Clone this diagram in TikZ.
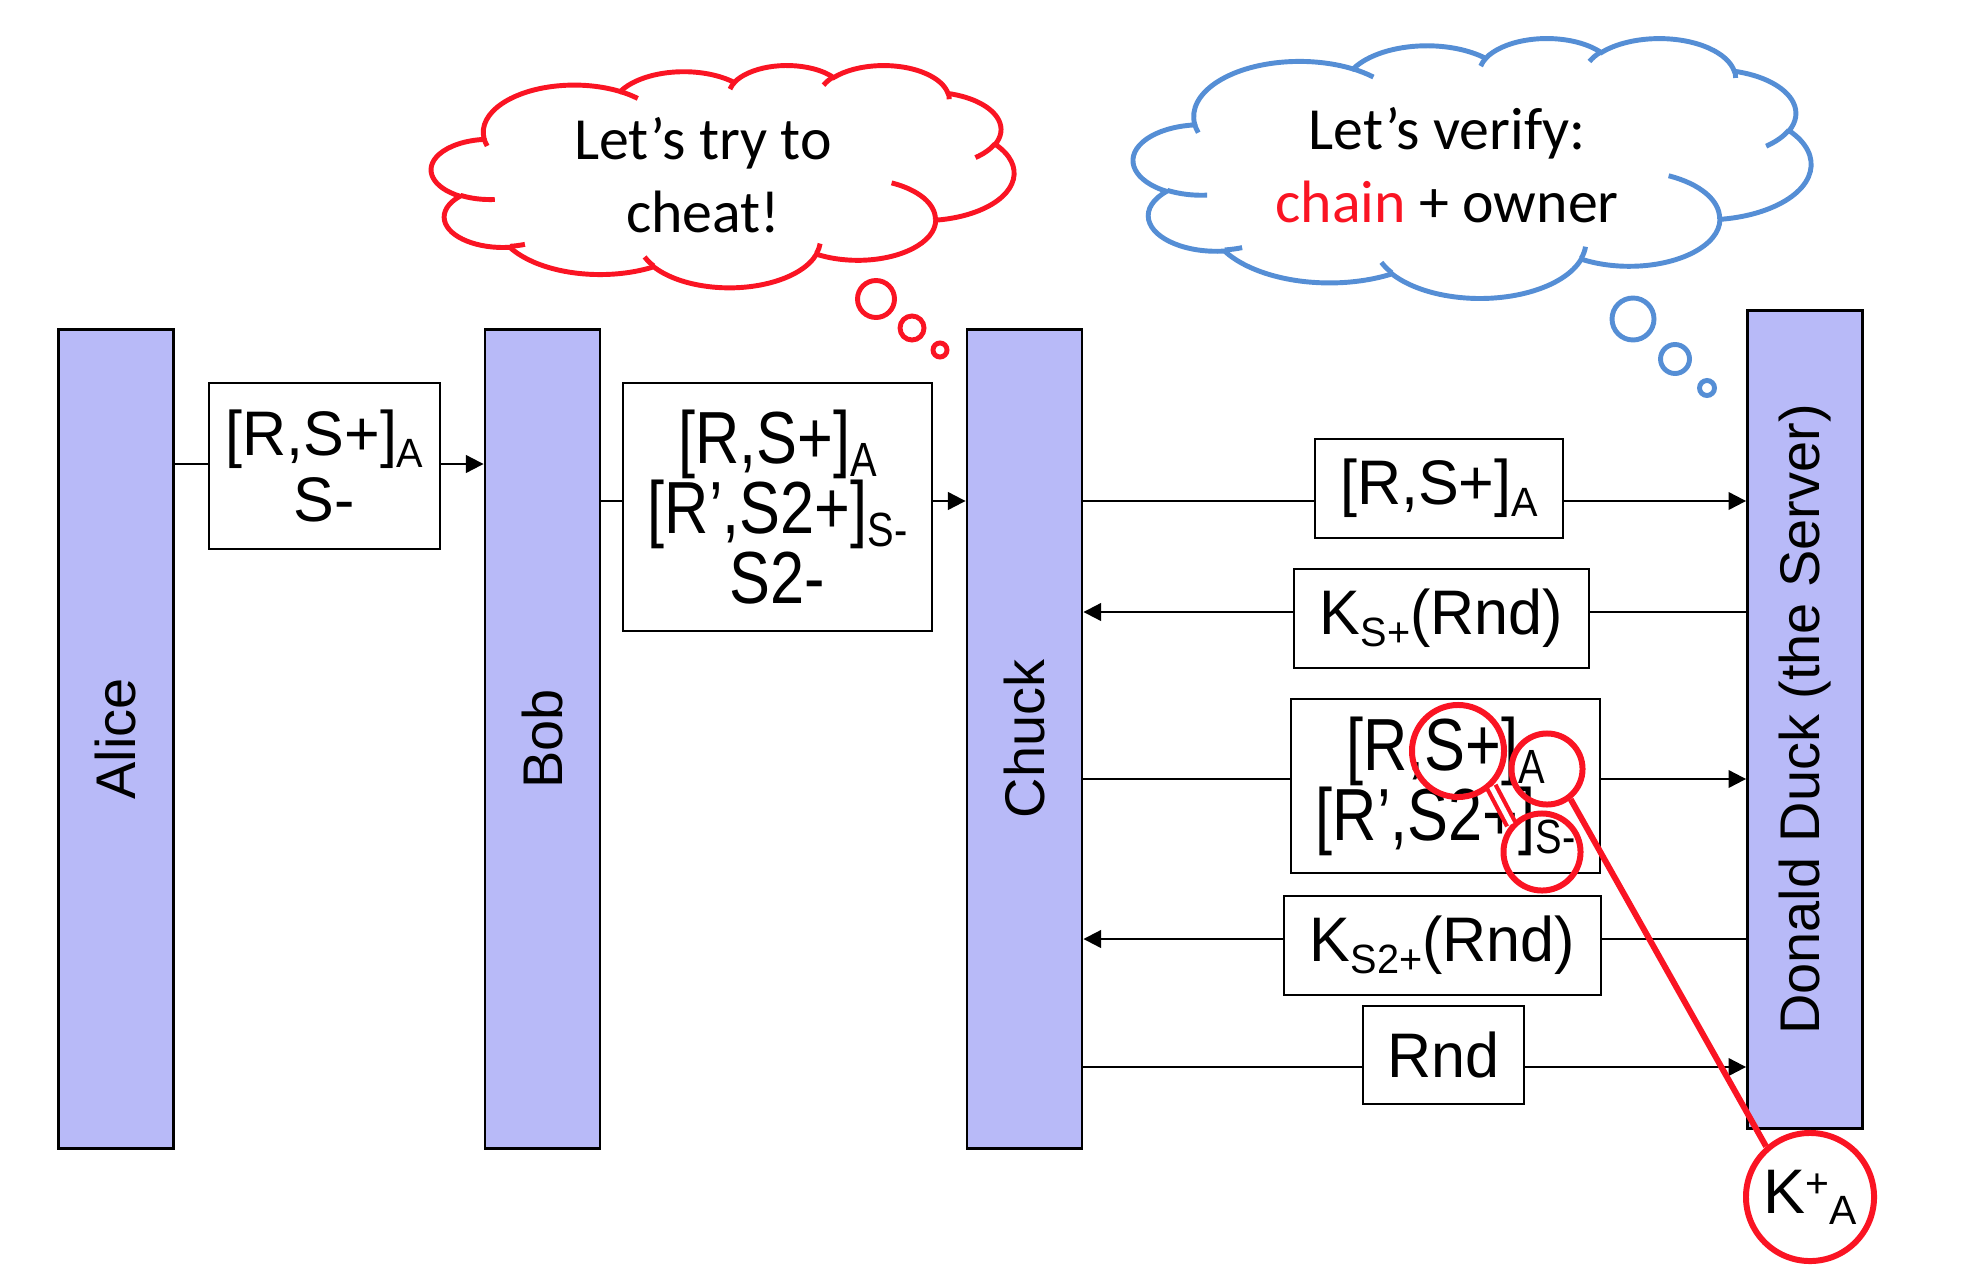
\documentclass[tikz,border=0pt]{standalone}
\usepackage{fontspec}
\setmainfont{Liberation Sans}
\newfontfamily\boxfont[FakeStretch=0.97]{Liberation Sans}
\newfontfamily\tallfont[FakeStretch=0.83]{Liberation Sans}
\newfontfamily\cloudfont{Carlito}
\usepackage{tikz}
\usetikzlibrary{arrows.meta,positioning}
\definecolor{barblue}{RGB}{184,186,248}
\definecolor{cheatred}{RGB}{250,20,35}
\definecolor{thinkblue}{RGB}{85,142,213}
\newcommand{\lo}[1]{\raisebox{-0.18em}{\scalebox{0.65}{#1}}}
\newcommand{\hi}[1]{\raisebox{0.25em}{\scalebox{0.65}{#1}}}
\newcommand{\puffcloud}[1]{%
  \draw[#1,fill=white] (39,143.7)
    arc[start angle=-187.746,delta angle=128.11,x radius=67.53,y radius=91.90]
    arc[start angle=-152.032,delta angle=106.581,x radius=53.33,y radius=72.67]
    arc[start angle=-153.495,delta angle=116.156,x radius=43.65,y radius=59.45]
    arc[start angle=-139.713,delta angle=129.502,x radius=48.57,y radius=65.95]
    arc[start angle=-74.767,delta angle=97.977,x radius=53.33,y radius=72.73]
    arc[start angle=-37.534,delta angle=119.397,x radius=67.75,y radius=92.20]
    arc[start angle=0.460,delta angle=121.518,x radius=57.85,y radius=78.67]
    arc[start angle=16.845,delta angle=129.379,x radius=67.52,y radius=92.15]
    arc[start angle=58.987,delta angle=91.212,x radius=77.20,y radius=105.43]
    arc[start angle=83.306,delta angle=139.807,x radius=43.60,y radius=59.18]
    arc[start angle=120.354,delta angle=143.759,x radius=43.45,y radius=59.45]
    -- cycle;
  \draw[#1] (46.93,261.77) arc[start angle=85.546,delta angle=34.808,x radius=43.45,y radius=59.45]
    (69.28,348.99) arc[start angle=68.233,delta angle=15.073,x radius=43.60,y radius=59.18]
    (164.78,390.90) arc[start angle=146.224,delta angle=12.247,x radius=67.52,y radius=92.15]
    (288.27,347.51) arc[start angle=4.737,delta angle=12.108,x radius=67.52,y radius=92.15]
    (341.29,229.54) arc[start angle=-64.028,delta angle=64.488,x radius=57.85,y radius=78.67]
    (417.98,153.54) arc[start angle=23.210,delta angle=26.441,x radius=53.33,y radius=72.73]
    (383.24,54.26) arc[start angle=-10.211,delta angle=11.032,x radius=48.57,y radius=65.95]
    (290.78,39.52) arc[start angle=-156.289,delta angle=16.576,x radius=48.57,y radius=65.95]
    (221.41,47.20) arc[start angle=-167.726,delta angle=14.231,x radius=43.65,y radius=59.45]
    (140.00,51.92) arc[start angle=-59.636,delta angle=13.903,x radius=67.53,y radius=91.90]
    (41.27,157.89) arc[start angle=163.194,delta angle=9.060,x radius=67.53,y radius=91.90];
}

\begin{document}
\begin{tikzpicture}[x=0.01cm,y=-0.01cm,
  party/.style={draw,line width=0.8pt,fill=barblue,minimum width=1.15cm,minimum height=8.18cm,inner sep=0pt,font=\fontsize{15.9}{18}\selectfont},
  msgbox/.style={draw,line width=0.7pt,fill=white,inner sep=0pt,align=center,font={\boxfont\fontsize{17.9}{18.5}\selectfont}},
  tallbox/.style={msgbox,font={\tallfont\fontsize{21}{19.9}\selectfont\lineskiplimit=-1em}},
  msg/.style={line width=0.6pt,-{Triangle[length=5pt,width=5pt]}},
  cloudtext/.style={align=center,font={\cloudfont\fontsize{17}{20.7}\selectfont}},
  ring/.style={circle,draw=cheatred,line width=1.7pt,inner sep=0pt}]
\useasboundingbox (0,0) rectangle (1970,1282);

\node[party] (alice) at (116,739) {\rotatebox{90}{Alice}};
\node[party] (bob) at (542.5,739) {\rotatebox{90}{Bob}};
\node[party] (chuck) at (1024.5,739) {\rotatebox{90}{Chuck}};
\node[party,minimum height=8.17cm] (server) at (1805,719.5) {\rotatebox{90}{Donald Duck (the Server)}};

\draw[msg] (alice.east |- 0,464) -- (bob.west |- 0,464);
\draw[msg] (bob.east |- 0,501) -- (chuck.west |- 0,501);
\foreach \y in {501,779,1067}
  \draw[msg] (chuck.east |- 0,\y) -- (server.west |- 0,\y);
\foreach \y in {612,939}
  \draw[msg] (server.west |- 0,\y) -- (chuck.east |- 0,\y);

\node[msgbox,minimum width=2.31cm,minimum height=1.66cm] (m1) at (324.5,466) {[R,S+]\lo{A}\\S-};
\node[tallbox,minimum width=3.09cm,minimum height=2.48cm] (m2) at (777.5,507) {[R,S+]\lo{A}\\{}[R’,S2+]\lo{S-}\\S2-};
\node[msgbox,minimum width=2.48cm,minimum height=0.99cm] (m3) at (1439,488.5) {[R,S+]\lo{A}};
\node[msgbox,minimum width=2.95cm,minimum height=0.99cm] (m4) at (1441.5,618.5) {K\lo{S+}(Rnd)};
\node[tallbox,minimum width=3.09cm,minimum height=1.74cm] (m5) at (1445.5,786) {[R,S+]\lo{A}\\{}[R’,S2+]\lo{S-}};
\node[msgbox,minimum width=3.17cm,minimum height=0.99cm] (m6) at (1442.5,945.5) {K\lo{S2+}(Rnd)};
\node[msgbox,minimum width=1.61cm,minimum height=0.98cm] (m7) at (1443.5,1055) {Rnd};

\begin{scope}[shift={(431.5,64.8)},x=0.013472cm,y=-0.005139cm]
  \puffcloud{cheatred,line width=1.4pt}
\end{scope}
\node[cloudtext] (cheattext) at (703,175) {Let’s try to\\cheat!};
\foreach \x/\y/\r in {876/299/18.5,912/328/12,940/350/7}
  \draw[cheatred,line width=1.4pt] (\x,\y) circle[radius=\r];

\begin{scope}[shift={(1133.5,37.7)},x=0.015671cm,y=-0.006019cm]
  \puffcloud{thinkblue,line width=1.4pt}
\end{scope}
\node[cloudtext] (verifytext) at (1447,165) {Let’s verify:\\\textcolor{cheatred}{chain} + owner};
\foreach \x/\y/\r in {1633/319/21,1675/359/14.5,1707/388/7.5}
  \draw[thinkblue,line width=1.4pt] (\x,\y) circle[radius=\r];

\node[ring,minimum size=0.92cm] (ringS) at (1458,751) {};
\node[ring,minimum size=0.71cm] (ringA) at (1547,769) {};
\node[ring,minimum size=0.77cm] (ringSm) at (1542,852) {};
\node[ring,minimum size=1.28cm,font=\fontsize{17.9}{18}\selectfont] (ringK) at (1810,1197) {K\hi{+}\lo{A}};
\draw[cheatred,line width=1.2pt,double=white,double distance=1.4pt] (ringS.-47) -- (ringSm.138);
\draw[cheatred,line width=1.7pt] (ringA.-52) -- (ringK.131);
\end{tikzpicture}
\end{document}
